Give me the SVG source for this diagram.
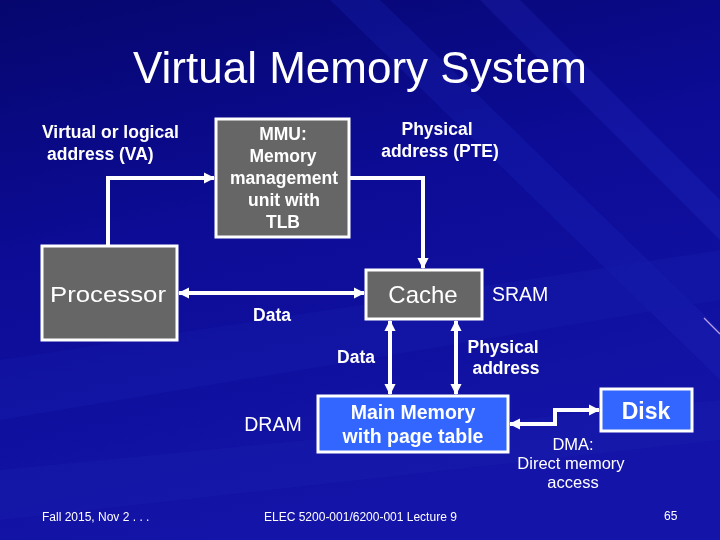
<svg xmlns="http://www.w3.org/2000/svg" width="720" height="540" viewBox="0 0 720 540">
<defs>
<linearGradient id="bg" x1="0" y1="0" x2="0.3" y2="1">
<stop offset="0" stop-color="#06066e"/>
<stop offset="0.45" stop-color="#0c0c96"/>
<stop offset="1" stop-color="#1414a8"/>
</linearGradient>
<marker id="ah" viewBox="0 0 10 10" refX="9" refY="5" markerWidth="2.8" markerHeight="2.8" orient="auto-start-reverse" markerUnits="strokeWidth">
<path d="M0,0 L10,5 L0,10 z" fill="#ffffff"/>
</marker>
<style>
.lbl{font-family:"Liberation Sans",Arial,sans-serif;font-weight:bold;font-size:17.5px;fill:#ffffff}
.nrm{font-family:"Liberation Sans",Arial,sans-serif;font-size:19.5px;fill:#ffffff}
.box{fill:#666666;stroke:#ffffff;stroke-width:3}
.bbox{fill:#3366ff;stroke:#ffffff;stroke-width:3}
.con{fill:none;stroke:#ffffff;stroke-width:4}
.dma{font-family:"Liberation Sans",Arial,sans-serif;font-size:16.5px;fill:#ffffff}
.foot{font-family:"Liberation Sans",Arial,sans-serif;font-size:12px;fill:#ffffff}
</style>
</defs>
<rect width="720" height="540" fill="url(#bg)"/>
<g opacity="0.8">
<path d="M380,0 L720,330 L720,380 L330,0 z" fill="#1c28b8" opacity="0.35"/>
<path d="M520,0 L720,200 L720,240 L480,0 z" fill="#2a36c8" opacity="0.3"/>
<path d="M0,360 L720,250 L720,300 L0,420 z" fill="#1a22b0" opacity="0.3"/>
<path d="M0,470 L720,400 L720,440 L0,520 z" fill="#1e2ab8" opacity="0.25"/>
</g>
<line x1="704" y1="318" x2="720" y2="334" stroke="#b8a0e8" stroke-width="1.2"/>

<text x="360" y="83" text-anchor="middle" font-family="'Liberation Sans',Arial,sans-serif" font-size="44" fill="#ffffff" textLength="454" lengthAdjust="spacingAndGlyphs">Virtual Memory System</text>

<g id="connectors">
<polyline class="con" points="108,246 108,178 214,178" marker-end="url(#ah)"/>
<polyline class="con" points="349,178 423,178 423,268" marker-end="url(#ah)"/>
<line class="con" x1="179" y1="293" x2="364" y2="293" marker-start="url(#ah)" marker-end="url(#ah)"/>
<line class="con" x1="390" y1="321" x2="390" y2="394" marker-start="url(#ah)" marker-end="url(#ah)"/>
<line class="con" x1="456" y1="321" x2="456" y2="394" marker-start="url(#ah)" marker-end="url(#ah)"/>
<polyline class="con" points="510,424 555,424 555,410 599,410" marker-start="url(#ah)" marker-end="url(#ah)"/>
</g>

<g id="labels">
<text class="lbl" x="42" y="138">Virtual or logical</text>
<text class="lbl" x="47" y="160">address (VA)</text>
<text class="lbl" x="437" y="135" text-anchor="middle">Physical</text>
<text class="lbl" x="440" y="157" text-anchor="middle">address (PTE)</text>
<text class="lbl" x="272" y="321" text-anchor="middle">Data</text>
<text class="lbl" x="356" y="363" text-anchor="middle">Data</text>
<text class="lbl" x="503" y="353" text-anchor="middle">Physical</text>
<text class="lbl" x="506" y="374" text-anchor="middle">address</text>
<text class="nrm" x="492" y="301">SRAM</text>
<text class="nrm" x="273" y="431" text-anchor="middle">DRAM</text>
<text class="dma" x="573" y="450" text-anchor="middle">DMA:</text>
<text class="dma" x="571" y="469" text-anchor="middle">Direct memory</text>
<text class="dma" x="573" y="488" text-anchor="middle">access</text>
</g>

<g id="processor">
<rect class="box" x="42" y="246" width="135" height="94"/>
<text x="108" y="302" text-anchor="middle" font-family="'Liberation Sans',Arial,sans-serif" font-size="22" fill="#ffffff" textLength="116" lengthAdjust="spacingAndGlyphs">Processor</text>
</g>

<g id="mmu">
<rect class="box" x="216" y="119" width="133" height="118"/>
<text class="lbl" x="283" y="140" text-anchor="middle">MMU:</text>
<text class="lbl" x="283" y="162" text-anchor="middle">Memory</text>
<text class="lbl" x="284" y="184" text-anchor="middle">management</text>
<text class="lbl" x="284" y="206" text-anchor="middle">unit with</text>
<text class="lbl" x="283" y="228" text-anchor="middle">TLB</text>
</g>

<g id="cache">
<rect class="box" x="366" y="270" width="116" height="49"/>
<text x="423" y="303" text-anchor="middle" font-family="'Liberation Sans',Arial,sans-serif" font-size="24" fill="#ffffff">Cache</text>
</g>

<g id="mainmemory">
<rect class="bbox" x="318" y="396" width="190" height="56"/>
<text x="413" y="419" text-anchor="middle" font-family="'Liberation Sans',Arial,sans-serif" font-weight="bold" font-size="19.5" fill="#ffffff">Main Memory</text>
<text x="413" y="443" text-anchor="middle" font-family="'Liberation Sans',Arial,sans-serif" font-weight="bold" font-size="19.5" fill="#ffffff">with page table</text>
</g>

<g id="disk">
<rect class="bbox" x="601" y="389" width="91" height="42"/>
<text x="646" y="419" text-anchor="middle" font-family="'Liberation Sans',Arial,sans-serif" font-weight="bold" font-size="23" fill="#ffffff">Disk</text>
</g>

<g id="footer">
<text class="foot" x="42" y="521">Fall 2015, Nov 2 . . .</text>
<text class="foot" x="264" y="521">ELEC 5200-001/6200-001 Lecture 9</text>
<text class="foot" x="664" y="520">65</text>
</g>
</svg>
